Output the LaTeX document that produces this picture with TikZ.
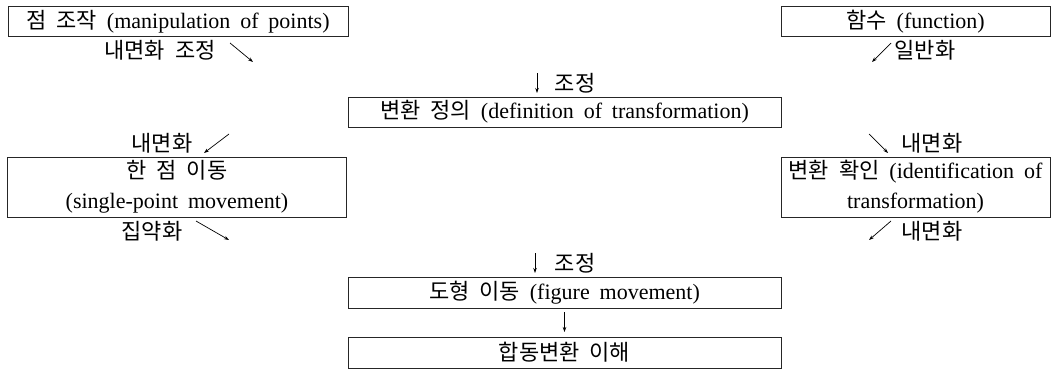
\documentclass[tikz,border=0pt]{standalone}
\usepackage{fontspec}
\setmainfont{Liberation Serif}
\newfontfamily\kor{Noto Sans CJK KR}
\newcommand\K[1]{{\kor #1}}
\newcommand\figfont{\fontsize{22}{30}\selectfont\spaceskip=0.45em\relax}
\usetikzlibrary{arrows.meta}
\begin{document}
\begin{tikzpicture}[x=1pt,y=-1pt,
  box/.style={draw=black!85,line width=1pt,inner sep=0pt,outer sep=0pt,anchor=center,font=\figfont,align=center},
  lab/.style={anchor=base,inner sep=0pt,font=\figfont},
  arr/.style={line width=0.7pt,-{Stealth[length=5pt,width=3.5pt]}}]
\useasboundingbox (0,0) rectangle (1051,369);
% boxes
\node[box,minimum width=340,minimum height=30] (b1) at (178,22) {\K{점 조작} (manipulation of points)};
\node[box,minimum width=269,minimum height=30] (b2) at (915.5,22) {\K{함수} (function)};
\node[box,minimum width=433,minimum height=30] (b3) at (564.5,112) {\K{변환 정의} (definition of transformation)};
\node[box,minimum width=339,minimum height=60] (b4) at (177,187) {\K{한 점 이동}\\(single-point movement)};
\node[box,minimum width=269,minimum height=60] (b5) at (915.5,187) {\K{변환 확인} (identification of\\transformation)};
\node[box,minimum width=433,minimum height=31] (b6) at (564.5,292.5) {\K{도형 이동} (figure movement)};
\node[box,minimum width=433,minimum height=31] (b7) at (564.5,352.5) {\K{합동변환 이해}};
% labels
\node[lab] (l1) at (160,59) {\K{내면화 조정}};
\node[lab] (l2) at (925,59) {\K{일반화}};
\node[lab] (l3) at (575,91) {\K{조정}};
\node[lab] (l4) at (162,151) {\K{내면화}};
\node[lab] (l5) at (932,151) {\K{내면화}};
\node[lab] (l6) at (152,239) {\K{집약화}};
\node[lab] (l7) at (932,239) {\K{내면화}};
\node[lab] (l8) at (575,271) {\K{조정}};
% glyph-like arrows
\coordinate (a1s) at (230,43); \coordinate (a1e) at (253,62);
\coordinate (a2s) at (891,43); \coordinate (a2e) at (872,62);
\coordinate (a3s) at (537,73); \coordinate (a3e) at (537,93);
\coordinate (a4s) at (229,134); \coordinate (a4e) at (204,153);
\coordinate (a5s) at (869,134); \coordinate (a5e) at (888,153);
\coordinate (a6s) at (196,221); \coordinate (a6e) at (229,240);
\coordinate (a7s) at (891,221); \coordinate (a7e) at (869,240);
\coordinate (a8s) at (535,253); \coordinate (a8e) at (535,273);
\draw[arr] (a1s) -- (a1e);
\draw[arr] (a2s) -- (a2e);
\draw[arr] (a3s) -- (a3e);
\draw[arr] (a4s) -- (a4e);
\draw[arr] (a5s) -- (a5e);
\draw[arr] (a6s) -- (a6e);
\draw[arr] (a7s) -- (a7e);
\draw[arr] (a8s) -- (a8e);
\draw[arr,shorten <=4pt,shorten >=5pt] (b6.south) -- (b7.north);
\end{tikzpicture}
\end{document}
